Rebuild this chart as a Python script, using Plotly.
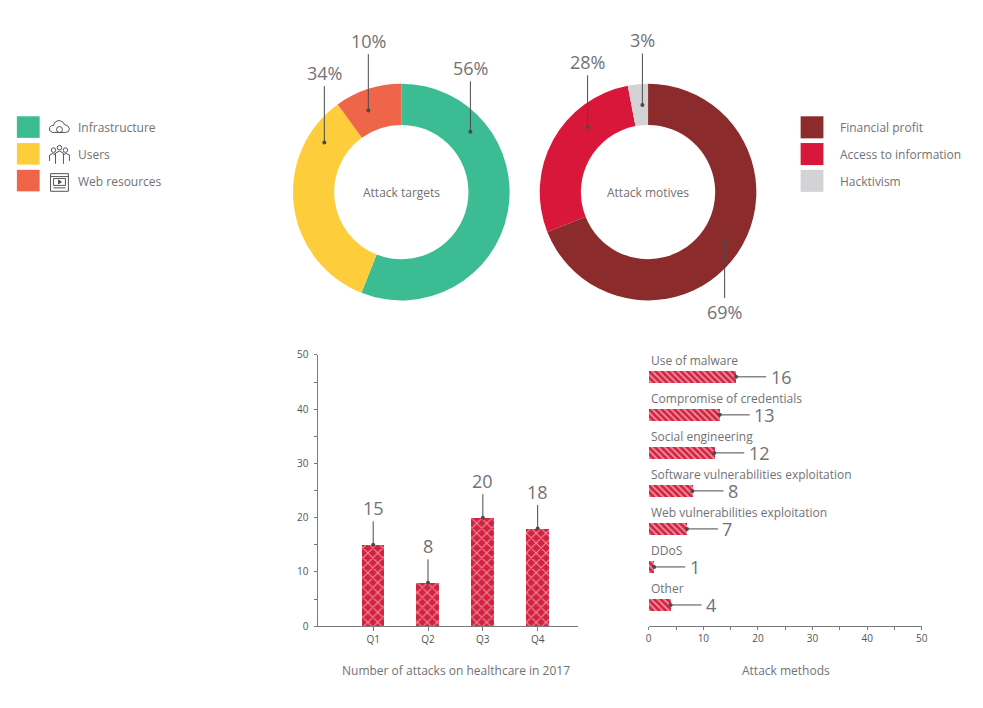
import plotly.graph_objects as go

W, H = 983, 708

# ---------------- data ----------------
target_labels = ["Infrastructure", "Users", "Web resources"]
target_values = [56, 34, 10]
motive_labels = ["Financial profit", "Access to information", "Hacktivism"]
motive_values = [69, 28, 3]
quarters = ["Q1", "Q2", "Q3", "Q4"]
quarter_attacks = [15, 8, 20, 18]
method_labels = ["Use of malware", "Compromise of credentials", "Social engineering",
                 "Software vulnerabilities exploitation", "Web vulnerabilities exploitation",
                 "DDoS", "Other"]
method_values = [16, 13, 12, 8, 7, 1, 4]

# ---------------- styles ----------------
target_colors = ["#3bbc92", "#fdcd3b", "#ef6549"]
motive_colors = ["#8b2b2b", "#d8173a", "#d3d3d6"]
RED = "#d4213f"
TXT = "#717275"
AX = "#7a7a7a"
FONT = "Open Sans"


def px(x):
    return x / W


def py(y):
    return 1 - y / H


fig = go.Figure()

# ---------------- donuts ----------------
fig.add_trace(go.Pie(labels=target_labels, values=target_values, hole=0.62, sort=False,
                     direction="clockwise", rotation=0, textinfo="none", hoverinfo="label+percent",
                     marker=dict(colors=target_colors, line=dict(width=0)), showlegend=False,
                     domain=dict(x=[px(291.5), px(512.5)], y=[py(299.3), py(78.3)])))
fig.add_trace(go.Pie(labels=motive_labels, values=motive_values, hole=0.62, sort=False,
                     direction="clockwise", rotation=0, textinfo="none", hoverinfo="label+percent",
                     marker=dict(colors=motive_colors, line=dict(width=0)), showlegend=False,
                     domain=dict(x=[px(540.5), px(761.5)], y=[py(299.3), py(78.3)])))

# ---------------- bars ----------------
fig.add_trace(go.Bar(x=quarters, y=quarter_attacks, width=0.41, xaxis="x", yaxis="y",
                     showlegend=False,
                     marker=dict(color=RED, line=dict(width=0),
                                 pattern=dict(shape="x", fgcolor="white", size=7, solidity=0.3))))
fig.add_trace(go.Bar(y=method_labels, x=method_values, orientation="h", width=0.31,
                     xaxis="x2", yaxis="y2", showlegend=False,
                     marker=dict(color=RED, line=dict(width=0),
                                 pattern=dict(shape="\\", fgcolor="white", size=4.5, solidity=0.4))))

tickfont = dict(family=FONT, size=10, color="#555")
ydom = [py(631.7), py(355)]

fig.update_layout(
    width=W, height=H, margin=dict(l=0, r=0, t=0, b=0),
    paper_bgcolor="white", plot_bgcolor="rgba(0,0,0,0)",
    font=dict(family=FONT, color=TXT),
    bargap=0,
    xaxis=dict(domain=[px(318.3), px(580)], range=[-1, 3.73], type="category", anchor="y",
               showline=True, linecolor=AX, linewidth=1, ticks="outside", ticklen=4,
               tickcolor=AX, tickfont=tickfont, showgrid=False, zeroline=False),
    yaxis=dict(domain=ydom, range=[0, 50], dtick=10, anchor="x", showline=True, linecolor=AX,
               linewidth=1, ticks="outside", ticklen=3, tickcolor=AX, tickfont=tickfont,
               minor=dict(dtick=5, ticks="outside", ticklen=3, tickcolor=AX),
               showgrid=False, zeroline=False, ticklabelstandoff=4),
    yaxis3=dict(overlaying="y", anchor="x", range=[0, 50], dtick=5, ticks="inside", ticklen=3,
                tickcolor=AX, showticklabels=False, showline=False, showgrid=False,
                zeroline=False),
    xaxis2=dict(domain=[px(651.7), px(927.3)], range=[0, 50], dtick=10, anchor="y2",
                showline=True, linecolor=AX, linewidth=1, ticks="outside", ticklen=3,
                tickcolor=AX, tickfont=tickfont,
                minor=dict(dtick=5, ticks="outside", ticklen=3, tickcolor=AX),
                showgrid=False, zeroline=False),
    xaxis3=dict(overlaying="x2", anchor="y2", range=[0, 50], dtick=5, ticks="inside", ticklen=3,
                tickcolor=AX, showticklabels=False, showline=False, showgrid=False,
                zeroline=False),
    yaxis2=dict(domain=ydom, type="category", categoryarray=method_labels,
                categoryorder="array", range=[6.559, -0.575], anchor="x2", visible=False),
)

ann = []
big = dict(family=FONT, size=18, color=TXT)
small = dict(family=FONT, size=12, color=TXT)
arrow = dict(showarrow=True, arrowhead=6, arrowsize=1, arrowwidth=1, arrowcolor="#4a4a4a")
mid = dict(xanchor="center", yanchor="middle")

# value labels on quarterly bars
for q, v in zip(quarters, quarter_attacks):
    ann.append(dict(x=q, y=v, xref="x", yref="y", text=str(v), ax=0, ay=-37, font=big,
                    **mid, **arrow))

# method labels and values
for lab, v in zip(method_labels, method_values):
    ann.append(dict(x=0, y=lab, xref="x2", yref="y2", text=lab, showarrow=False,
                    xanchor="left", yanchor="middle", yshift=16, font=small))
    ann.append(dict(x=v, y=lab, xref="x2", yref="y2", text=str(v), borderpad=4,
                    ax=36 + 4.5 * len(str(v)), ay=0, font=big, **mid, **arrow))

# donut leader labels (dot position in px, text offset)
donut_labels = [
    (f"{target_values[0]}%", 471.7, 127.3, 0, -64),
    (f"{target_values[1]}%", 324.3, 138.3, 0, -70),
    (f"{target_values[2]}%", 368.7, 105.7, 0, -70),
    (f"{motive_values[0]}%", 728.3, 238.3, 0, 71),
    (f"{motive_values[1]}%", 590.0, 122.3, 0, -65),
    (f"{motive_values[2]}%", 645.3, 100.0, 0, -65),
]
for t, x, y, ax_, ay_ in donut_labels:
    ann.append(dict(x=px(x), y=py(y), xref="paper", yref="paper", text=t,
                    ax=ax_, ay=ay_, font=big, **mid, **arrow))

# donut centre captions
ann.append(dict(x=px(402), y=py(188.8), xref="paper", yref="paper", text="Attack targets",
                showarrow=False, font=small, **mid))
ann.append(dict(x=px(651), y=py(188.8), xref="paper", yref="paper", text="Attack motives",
                showarrow=False, font=small, **mid))

# axis captions
ann.append(dict(x=px(457), y=py(677), xref="paper", yref="paper",
                text="Number of attacks on healthcare in 2017", showarrow=False, font=small,
                **mid))
ann.append(dict(x=px(790), y=py(677), xref="paper", yref="paper", text="Attack methods",
                showarrow=False, font=small, **mid))

shapes = []
# left legend
for i, (lab, col) in enumerate(zip(target_labels, target_colors)):
    y0 = 111.5 + i * 27.3
    shapes.append(dict(type="rect", xref="paper", yref="paper", x0=px(14), x1=px(37),
                       y0=py(y0), y1=py(y0 + 22), fillcolor=col, line=dict(width=0)))
    ann.append(dict(x=px(74), y=py(y0 + 11.5), xref="paper", yref="paper", text=lab,
                    showarrow=False, xanchor="left", yanchor="middle", font=small))
# right legend
for i, (lab, col) in enumerate(zip(motive_labels, motive_colors)):
    y0 = 111.5 + i * 27.3
    shapes.append(dict(type="rect", xref="paper", yref="paper", x0=px(805), x1=px(828),
                       y0=py(y0), y1=py(y0 + 22.5), fillcolor=col, line=dict(width=0)))
    ann.append(dict(x=px(843), y=py(y0 + 11.5), xref="paper", yref="paper", text=lab,
                    showarrow=False, xanchor="left", yanchor="middle", font=small))


# small line icons for the left legend
def path(pts, close=False):
    s = "M" + " L".join(f"{px(a):.5f},{py(b):.5f}" for a, b in pts)
    return s + (" Z" if close else "")


ic = dict(color="#555", width=1)
# cloud
shapes.append(dict(type="path", xref="paper", yref="paper", line=ic,
                   path=path([(50, 128), (47, 126), (47, 123), (49, 121), (51, 121), (52, 118),
                              (55, 116), (58, 116), (61, 118), (62, 120), (65, 121), (67, 124),
                              (66, 127), (63, 128)], close=True)))
shapes.append(dict(type="circle", xref="paper", yref="paper", line=ic,
                   x0=px(54), x1=px(60), y0=py(122), y1=py(128)))
# users
for cx, cy in [(51, 146), (57, 143.5), (63, 146)]:
    shapes.append(dict(type="circle", xref="paper", yref="paper", line=ic,
                       x0=px(cx - 2.3), x1=px(cx + 2.3), y0=py(cy - 2.3), y1=py(cy + 2.3)))
shapes.append(dict(type="path", xref="paper", yref="paper", line=ic,
                   path=path([(47, 157), (47, 151), (50, 149.5), (53, 150.5)])))
shapes.append(dict(type="path", xref="paper", yref="paper", line=ic,
                   path=path([(67, 157), (67, 151), (64, 149.5), (61, 150.5)])))
shapes.append(dict(type="path", xref="paper", yref="paper", line=ic,
                   path=path([(53, 160), (53, 149), (57, 147), (61, 149), (61, 160)])))
# web page
shapes.append(dict(type="rect", xref="paper", yref="paper", line=ic,
                   x0=px(48), x1=px(66), y0=py(170), y1=py(188)))
shapes.append(dict(type="path", xref="paper", yref="paper", line=ic,
                   path=path([(48, 173), (66, 173)])))
shapes.append(dict(type="rect", xref="paper", yref="paper", line=ic,
                   x0=px(51), x1=px(63), y0=py(175), y1=py(182)))
shapes.append(dict(type="path", xref="paper", yref="paper", line=ic, fillcolor="#555",
                   path=path([(56, 176.5), (59, 178.5), (56, 180.5)], close=True)))
shapes.append(dict(type="path", xref="paper", yref="paper", line=ic,
                   path=path([(51, 184.5), (63, 184.5)])))

fig.update_layout(annotations=ann, shapes=shapes)

fig.write_html("out.html", post_script="document.body.style.margin='0';",
               config={"displayModeBar": False})
